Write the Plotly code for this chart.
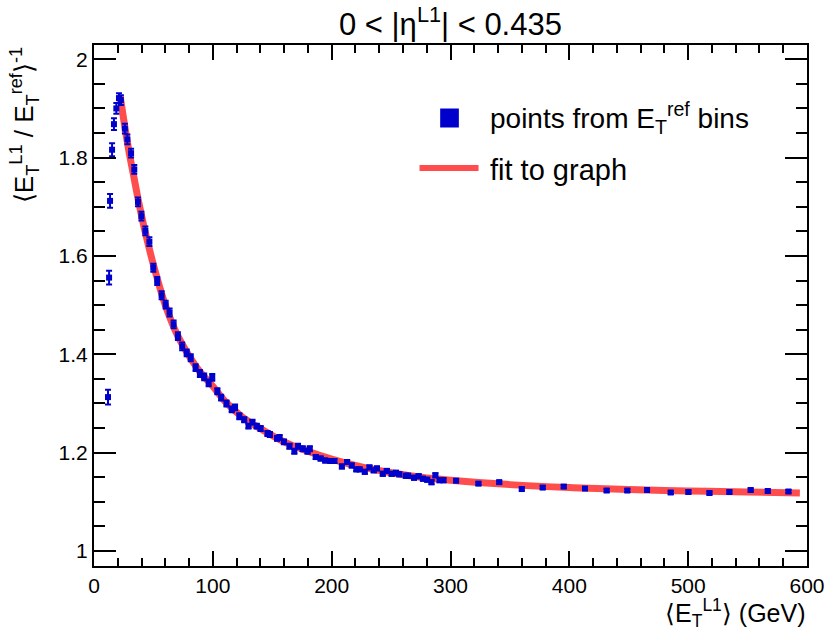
import plotly.graph_objects as go

# ---- data ----
x_pts = [11.8, 12.7, 13.5, 15.2, 16.8, 18.8, 21.0, 22.6, 26.0, 28.1, 31.2, 33.9, 37.0, 39.9,
         43.2, 46.6, 49.9, 53.2, 56.9, 60.3, 63.6, 67.0, 70.6, 74.2, 78.0, 81.4, 85.5, 89.1,
         92.7, 96.5, 99.5, 103.8, 107.0, 111.5, 115.9, 118.7, 122.3, 126.4, 130.0, 133.3,
         136.9, 140.2, 146.0, 148.0, 154.0, 156.2, 159.8, 164.5, 168.6, 171.7, 175.6, 179.7,
         181.6, 186.6, 190.7, 194.6, 199.0, 202.3, 208.6, 213.0, 216.9, 220.7, 223.5, 227.9,
         231.8, 235.4, 238.1, 243.0, 246.4, 250.5, 254.1, 256.9, 262.4, 264.3, 269.3, 273.2,
         276.8, 280.4, 284.0, 287.3, 290.8, 294.1, 304.7, 323.5, 341.0, 360.0, 377.6, 395.3,
         413.2, 431.4, 448.8, 465.4, 485.3, 500.2, 517.9, 534.7, 552.6, 567.0, 584.4]
y_pts = [1.313, 1.556, 1.712, 1.816, 1.868, 1.900, 1.921, 1.917, 1.859, 1.837, 1.809, 1.776,
         1.710, 1.681, 1.651, 1.629, 1.576, 1.549, 1.520, 1.501, 1.485, 1.461, 1.437, 1.416,
         1.403, 1.393, 1.373, 1.361, 1.354, 1.342, 1.353, 1.325, 1.312, 1.300, 1.288, 1.292,
         1.274, 1.267, 1.254, 1.262, 1.254, 1.249, 1.239, 1.237, 1.229, 1.231, 1.222, 1.213,
         1.203, 1.213, 1.208, 1.203, 1.208, 1.191, 1.188, 1.184, 1.183, 1.183, 1.172, 1.181,
         1.174, 1.166, 1.166, 1.161, 1.170, 1.164, 1.168, 1.157, 1.163, 1.157, 1.159, 1.156,
         1.153, 1.153, 1.149, 1.152, 1.147, 1.145, 1.140, 1.154, 1.144, 1.144, 1.143, 1.137,
         1.140, 1.126, 1.129, 1.131, 1.127, 1.123, 1.123, 1.124, 1.119, 1.120, 1.118, 1.120,
         1.124, 1.122, 1.121]
e_pts = [0.015, 0.014, 0.014, 0.013, 0.012, 0.011, 0.010, 0.010, 0.010, 0.010, 0.009, 0.009,
         0.009, 0.009, 0.009, 0.009, 0.008, 0.008, 0.008, 0.008, 0.008, 0.008, 0.008, 0.008,
         0.007, 0.007, 0.007, 0.007, 0.007, 0.007, 0.007, 0.006, 0.006, 0.006, 0.006, 0.006,
         0.006, 0.005, 0.005, 0.005, 0.005, 0.005, 0.005, 0.005, 0.005, 0.005, 0.005, 0.005,
         0.005, 0.005, 0.005, 0.005, 0.005, 0.004, 0.004, 0.004, 0.004, 0.004, 0.004, 0.004,
         0.004, 0.004, 0.004, 0.004, 0.004, 0.004, 0.004, 0.004, 0.004, 0.004, 0.004, 0.004,
         0.004, 0.004, 0.004, 0.004, 0.004, 0.004, 0.004, 0.004, 0.004, 0.004, 0.003, 0.003,
         0.003, 0.003, 0.003, 0.003, 0.003, 0.003, 0.003, 0.003, 0.003, 0.003, 0.003, 0.003,
         0.003, 0.003, 0.003]

x_fit = [22, 26, 30, 34, 38, 42, 46, 50, 60, 70, 80, 90, 100, 110, 125, 140, 160, 180, 200,
         225, 250, 275, 300, 350, 400, 450, 500, 550, 594]
y_fit = [1.925, 1.862, 1.805, 1.755, 1.705, 1.660, 1.620, 1.582, 1.500, 1.440, 1.397, 1.362,
         1.335, 1.305, 1.272, 1.249, 1.222, 1.203, 1.187, 1.171, 1.159, 1.150, 1.144, 1.135,
         1.129, 1.125, 1.122, 1.120, 1.118]

title_text = "0 < |η<sup>L1</sup>| < 0.435"
legend_points = "points from E<sub>T</sub><sup>ref</sup> bins"
legend_fit = "fit to graph"
xtitle = "⟨E<sub>T</sub><sup>L1</sup>⟩ (GeV)"
ytitle = "⟨E<sub>T</sub><sup>L1</sup> / E<sub>T</sub><sup>ref</sup>⟩<sup>-1</sup>"

BLUE = "#0000CC"
RED = "#FF4D4D"
FONT = "Liberation Sans, Arial, sans-serif"

fig = go.Figure()
fig.add_trace(go.Scatter(
    x=x_fit, y=y_fit, mode="lines", line=dict(color=RED, width=7, shape="spline"),
    showlegend=False, hoverinfo="skip"))
fig.add_trace(go.Scatter(
    x=x_pts, y=y_pts, mode="markers",
    marker=dict(symbol="square", size=6, color=BLUE),
    error_y=dict(type="data", array=e_pts, visible=True, color=BLUE, thickness=2, width=3),
    showlegend=False))

L, R, T, B = 94, 18, 45, 67
W, H = 837, 633
pw, ph = W - L - R, H - T - B

def px(xp):
    return (xp - L) / pw

def py(yp):
    return (H - B - yp) / ph

axis_common = dict(
    showgrid=False, zeroline=False, showline=True, linecolor="black", linewidth=2,
    mirror="ticks", ticks="inside", tickcolor="black", tickwidth=1.5,
    tickfont=dict(family=FONT, size=21, color="black"),
)
fig.update_xaxes(range=[0, 600], dtick=100, tick0=0, ticklen=15,
                 minor=dict(ticks="inside", dtick=20, ticklen=8, tickcolor="black", tickwidth=1.5),
                 **axis_common)
fig.update_yaxes(range=[0.9695, 2.029], dtick=0.2, tick0=1.0, ticklen=22,
                 minor=dict(ticks="inside", dtick=0.05, ticklen=11, tickcolor="black", tickwidth=1.5),
                 **axis_common)

shapes = [
    dict(type="rect", xref="paper", yref="paper",
         x0=px(446), x1=px(465), y0=py(127.5), y1=py(108.5),
         fillcolor=BLUE, line=dict(width=0)),
    dict(type="line", xref="paper", yref="paper",
         x0=px(425), x1=px(485), y0=py(168), y1=py(168),
         line=dict(color=RED, width=6)),
]
annotations = [
    dict(text=title_text, xref="paper", yref="paper", x=px(457), y=py(22),
         xanchor="center", yanchor="middle", showarrow=False,
         font=dict(family=FONT, size=31, color="black")),
    dict(text=legend_points, xref="paper", yref="paper", x=px(495), y=py(118),
         xanchor="left", yanchor="middle", showarrow=False,
         font=dict(family=FONT, size=28, color="black")),
    dict(text=legend_fit, xref="paper", yref="paper", x=px(495), y=py(170),
         xanchor="left", yanchor="middle", showarrow=False,
         font=dict(family=FONT, size=29, color="black")),
    dict(text=xtitle, xref="paper", yref="paper", x=1.0, y=0, yshift=-67,
         xanchor="right", yanchor="bottom", showarrow=False,
         font=dict(family=FONT, size=25, color="black")),
    dict(text=ytitle, xref="paper", yref="paper", x=px(23), y=1.0,
         xanchor="center", yanchor="top", textangle=-90, showarrow=False,
         font=dict(family=FONT, size=26, color="black")),
]

fig.update_layout(
    width=W, height=H, margin=dict(l=L, r=R, t=T, b=B),
    paper_bgcolor="white", plot_bgcolor="white",
    shapes=shapes, annotations=annotations, showlegend=False,
)

fig.write_html("out.html")
